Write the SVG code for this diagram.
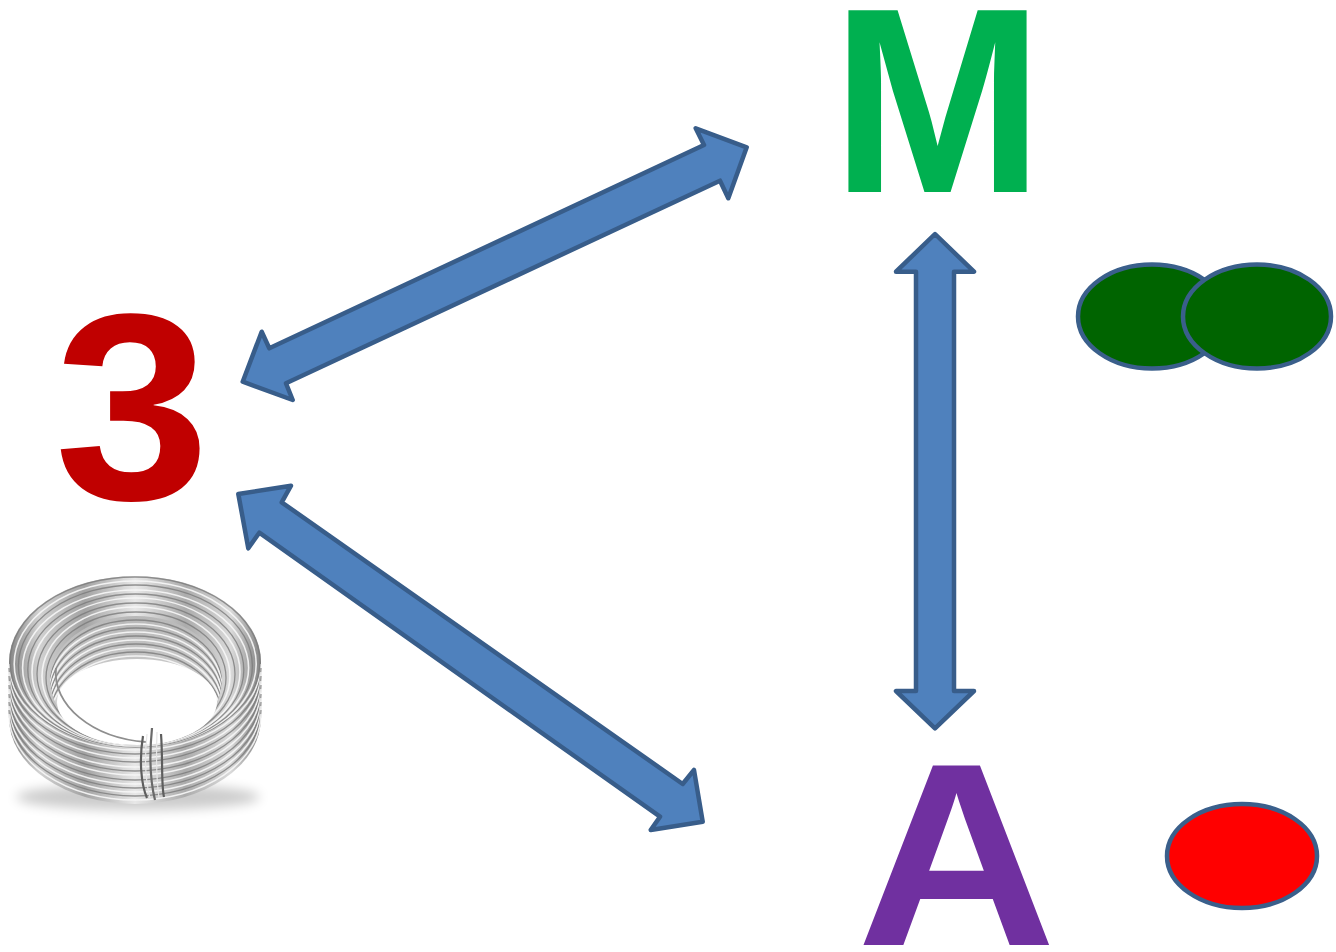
<svg xmlns="http://www.w3.org/2000/svg" width="1336" height="952" viewBox="0 0 1336 952">
<style>
.arrow{fill:#4f81bd;stroke:#385d8a;stroke-width:4.5;stroke-linejoin:round}
.big{font-family:"Liberation Sans",Arial,sans-serif;font-weight:bold}
.blob{stroke:#3a5f8b;stroke-width:4.5}
.wd{fill:none;stroke:#7a7a7a;stroke-width:1.3;opacity:.8}
.wl{fill:none;stroke:#f7f7f7;stroke-width:1.6;opacity:.9}
</style>
<defs>
<linearGradient id="metal" x1="0" y1="0" x2="1" y2="0">
<stop offset="0" stop-color="#868686"/>
<stop offset="0.12" stop-color="#d2d2d2"/>
<stop offset="0.3" stop-color="#a3a3a3"/>
<stop offset="0.5" stop-color="#e8e8e8"/>
<stop offset="0.7" stop-color="#acacac"/>
<stop offset="0.88" stop-color="#dadada"/>
<stop offset="1" stop-color="#848484"/>
</linearGradient>
<linearGradient id="innerwall" x1="0" y1="0" x2="0" y2="1">
<stop offset="0" stop-color="#b8b8b8"/>
<stop offset="1" stop-color="#e2e2e2"/>
</linearGradient>
<clipPath id="innerClip"><ellipse cx="136" cy="680" rx="86" ry="64"/></clipPath>
<filter id="blur" x="-20%" y="-100%" width="140%" height="300%"><feGaussianBlur stdDeviation="6"/></filter>
</defs>
<rect width="1336" height="952" fill="#fff"/>

<g id="connectors">
<polygon id="arrow-3-M" class="arrow" points="242.7,381.7 261.7,331.7 269.3,348.3 704,145 695.7,128.3 746.7,147.3 728.3,198.3 720,180.7 286,383.3 292.7,400"/>
<polygon id="arrow-3-A" class="arrow" points="238.3,494 291,485.7 281.7,502.3 682.7,784 694,770 702.7,821.7 650.7,830 660,816.7 259.3,532.7 248.3,548.3"/>
<polygon id="arrow-M-A" class="arrow" points="935,234 974,271.7 954,271.7 954,691 974,691 935,728.3 896,691 916,691 916,271.7 896,271.7"/>
</g>

<g id="node-M"><text class="big" transform="translate(937.5,192) scale(0.965,1)" x="0" y="0" font-size="264" fill="#00b050" text-anchor="middle">M</text></g>
<g id="node-A"><text class="big" transform="translate(956.5,945) scale(1.06,1)" x="0" y="0" font-size="261" fill="#7030a0" text-anchor="middle">A</text></g>
<g id="node-3"><text class="big" transform="translate(132,499) scale(1.05,1)" x="0" y="0" font-size="266" fill="#c00000" text-anchor="middle">3</text></g>

<g id="molecule-M">
<ellipse class="blob" cx="1152" cy="316.5" rx="74" ry="52" fill="#006400"/>
<ellipse class="blob" cx="1257" cy="316.5" rx="74" ry="52" fill="#006400"/>
</g>
<g id="atom-A">
<ellipse class="blob" cx="1242" cy="856" rx="75" ry="52" fill="#ff0000"/>
</g>

<g id="wire-coil">
<ellipse cx="138" cy="797" rx="122" ry="13" fill="#000" opacity="0.2" filter="url(#blur)"/>
<path d="M9,662 A126,86 0 0 1 261,662 L261,718 A126,86 0 0 1 9,718 Z" fill="url(#metal)"/>
<path class="wl" d="M9,664 A126,86 0 0 0 261,664"/>
<path class="wd" d="M9,668 A126,86 0 0 0 261,668"/>
<path class="wl" d="M9,672 A126,86 0 0 0 261,672"/>
<path class="wd" d="M9,676 A126,86 0 0 0 261,676"/>
<path class="wl" d="M9,681 A126,86 0 0 0 261,681"/>
<path class="wd" d="M9,685 A126,86 0 0 0 261,685"/>
<path class="wl" d="M9,689 A126,86 0 0 0 261,689"/>
<path class="wd" d="M9,694 A126,86 0 0 0 261,694"/>
<path class="wl" d="M9,698 A126,86 0 0 0 261,698"/>
<path class="wd" d="M9,702 A126,86 0 0 0 261,702"/>
<path class="wl" d="M9,706 A126,86 0 0 0 261,706"/>
<path class="wd" d="M9,710 A126,86 0 0 0 261,710"/>
<path class="wl" d="M9,714 A126,86 0 0 0 261,714"/>
<ellipse class="wd" cx="135" cy="662" rx="125" ry="85"/>
<ellipse class="wl" cx="135.2" cy="664" rx="121" ry="83"/>
<ellipse class="wd" cx="135.4" cy="666" rx="117" ry="81"/>
<ellipse class="wl" cx="135.6" cy="668" rx="113" ry="78"/>
<ellipse class="wd" cx="135.8" cy="670" rx="108" ry="76"/>
<ellipse class="wl" cx="136" cy="672" rx="104" ry="74"/>
<ellipse class="wd" cx="136" cy="674" rx="99" ry="71"/>
<ellipse class="wl" cx="136" cy="676" rx="94" ry="69"/>
<ellipse class="wd" cx="136" cy="678" rx="90" ry="66"/>
<ellipse cx="136" cy="680" rx="86" ry="64" fill="url(#innerwall)"/>
<g clip-path="url(#innerClip)">
<path class="wd" d="M50,684 A86,64 0 0 1 222,684"/>
<path class="wl" d="M50,688 A86,64 0 0 1 222,688"/>
<path class="wd" d="M50,692 A86,64 0 0 1 222,692"/>
<path class="wl" d="M50,696 A86,64 0 0 1 222,696"/>
<path class="wd" d="M50,700 A86,64 0 0 1 222,700"/>
<path class="wl" d="M50,704 A86,64 0 0 1 222,704"/>
<path class="wd" d="M50,708 A86,64 0 0 1 222,708"/>
<path class="wl" d="M50,712 A86,64 0 0 1 222,712"/>
<path class="wd" d="M50,716 A86,64 0 0 1 222,716"/>
<path class="wl" d="M50,720 A86,64 0 0 1 222,720"/>
</g>
<ellipse cx="137" cy="702" rx="80" ry="43" fill="#ffffff"/>
<path d="M56,668 C52,705 92,738 146,742" fill="none" stroke="#8e8e8e" stroke-width="1.8"/>
<path d="M143,736 C139,760 141,784 147,798" fill="none" stroke="#5e5e5e" stroke-width="2.2"/>
<path d="M152,728 C149,758 151,784 155,800" fill="none" stroke="#6a6a6a" stroke-width="2.2"/>
<path d="M161,734 C163,760 161,784 164,797" fill="none" stroke="#5e5e5e" stroke-width="2.2"/>
<path d="M147,734 C144,760 146,784 150,798" fill="none" stroke="#e6e6e6" stroke-width="1.2"/>
<path d="M157,732 C156,760 157,784 159,798" fill="none" stroke="#e6e6e6" stroke-width="1.2"/>
</g>
</svg>
